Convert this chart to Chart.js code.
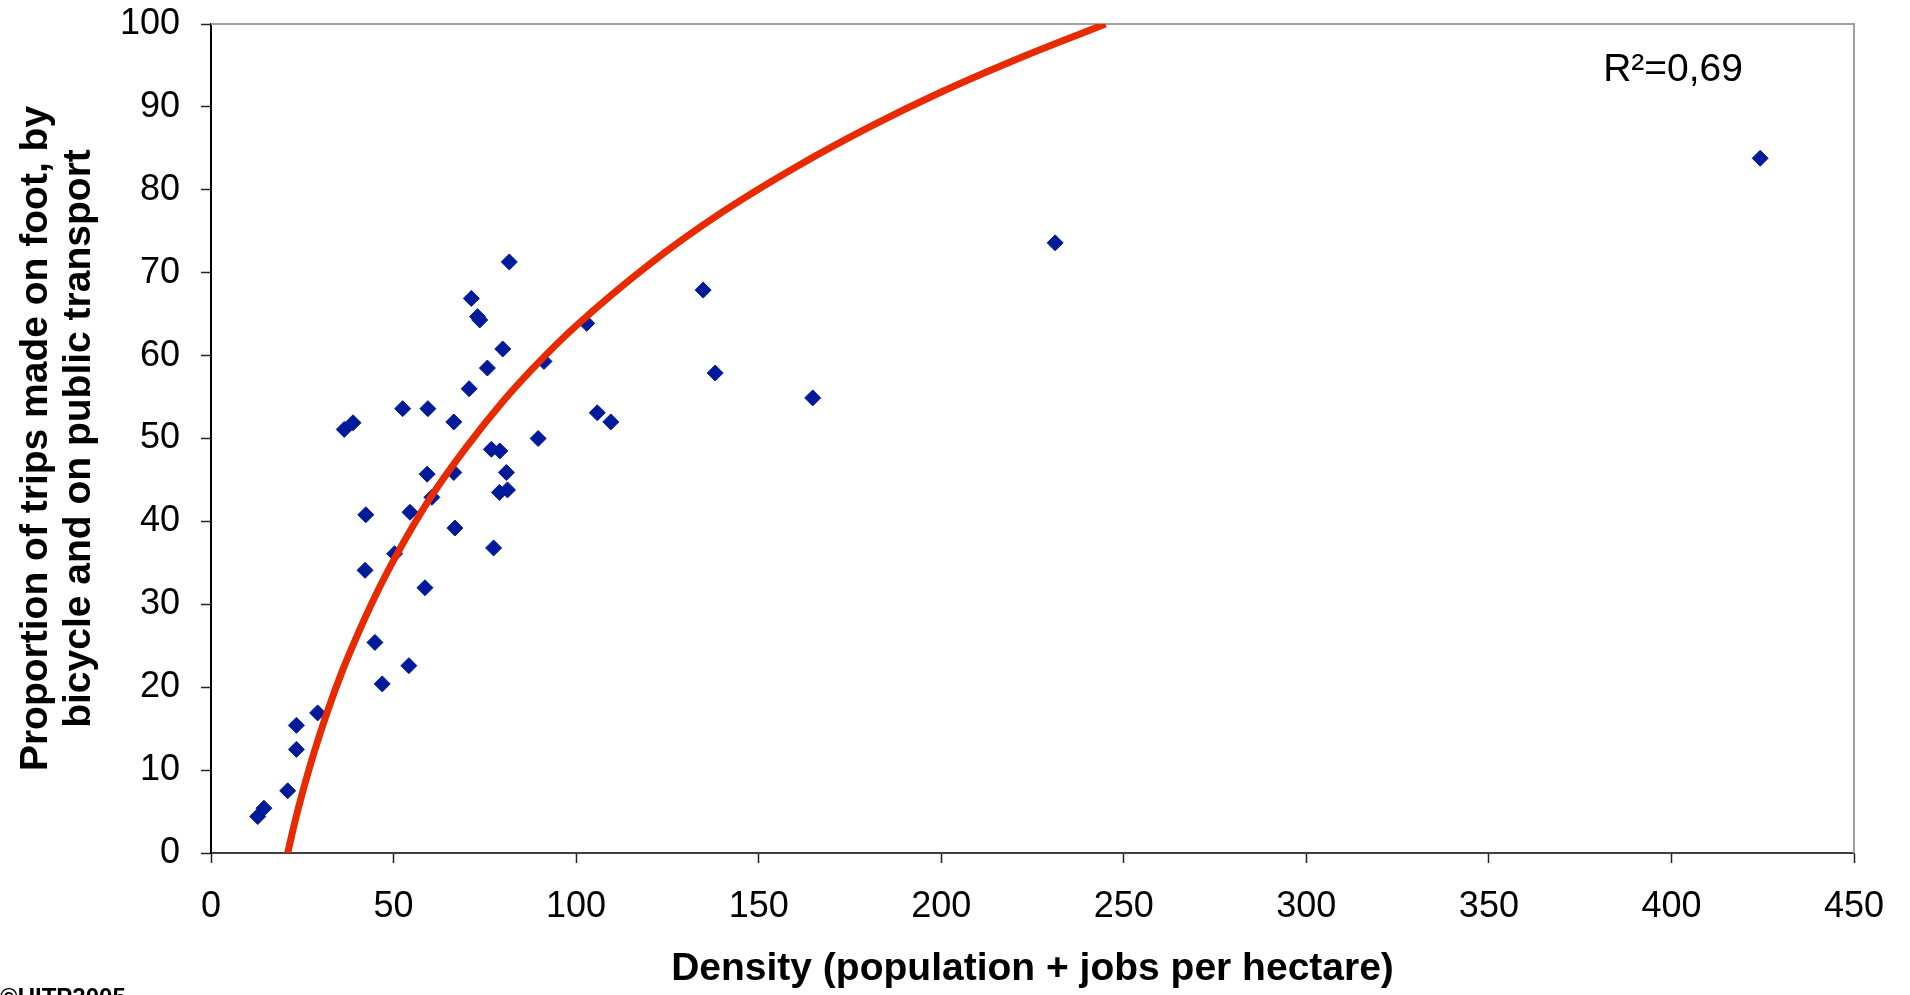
<!DOCTYPE html>
<html>
<head>
<meta charset="utf-8">
<title>Density and sustainable trips</title>
<script src="https://cdn.jsdelivr.net/npm/chart.js@4/dist/chart.umd.min.js"></script>
<style>
    html, body { margin: 0; padding: 0; background: #fff; }
    #wrap { width: 1910px; height: 995px; }
</style>
</head>
<body>
<div id="wrap"><canvas id="densityChart" width="1910" height="995"></canvas></div>
<script>
// Observed cities: density (population + jobs / ha) and share of walk/bike/PT trips (%)
const density = [
    12.8, 14.5, 21.0, 23.4, 23.4, 29.2, 36.5, 38.9, 42.4, 42.2,
    44.9, 46.9, 50.3, 52.5, 54.5, 54.2, 58.6, 59.2, 59.4, 60.5,
    66.5, 66.5, 66.8, 70.7, 71.3, 73.0, 73.6, 75.7, 76.8, 77.4,
    79.1, 79.0, 79.9, 80.9, 81.2, 81.7, 89.6, 91.2, 102.9, 105.8,
    109.5, 134.8, 138.1, 164.8, 231.2, 424.3
];
const tripShare = [
    4.4, 5.4, 7.5, 12.5, 15.4, 16.9, 51.1, 51.9, 40.8, 34.1,
    25.4, 20.4, 36.1, 53.6, 41.1, 22.6, 32.0, 45.7, 53.6, 42.9,
    52.0, 45.9, 39.2, 56.0, 66.9, 64.7, 64.3, 58.5, 48.7, 36.8,
    48.5, 43.5, 60.8, 45.9, 43.8, 71.3, 50.0, 59.3, 63.9, 53.1,
    52.0, 67.9, 57.9, 54.9, 73.6, 83.8
];

// Trend curve
const trendDensity = [21, 23, 25, 28, 32, 36, 40, 45, 50, 60, 70, 80, 90, 100, 120, 140, 160, 180, 200, 222, 245];
const trendShare = [0, 3.8, 7.2, 11.8, 17.2, 22.0, 26.2, 31.0, 35.3, 42.8, 49.0, 54.5, 59.3, 63.6, 71.0, 77.3, 82.7, 87.5, 91.8, 96.0, 100];

const xRange = [0, 450];
const yRange = [0, 100];
const xStep = 50;
const yStep = 10;

const fitLabel = 'R²=0,69';
const fitLabelAt = [381.3, 94.4];
const creditText = '©UITP2005';

const FONT = '"Liberation Sans", Arial, sans-serif';

const points = density.map((d, i) => ({ x: d, y: tripShare[i] }));
const trend = trendDensity.map((d, i) => ({ x: d, y: trendShare[i] }));

// gray top/right frame, R² note and credit line
const plotFrame = {
    id: 'plotFrame',
    beforeDatasetsDraw(chart) {
        const { ctx, chartArea: a } = chart;
        ctx.save();
        ctx.strokeStyle = '#a0a0a0';
        ctx.lineWidth = 2;
        ctx.beginPath();
        ctx.moveTo(a.left, a.top);
        ctx.lineTo(a.right, a.top);
        ctx.lineTo(a.right, a.bottom);
        ctx.stroke();
        ctx.restore();
    },
    afterDraw(chart) {
        const { ctx, scales } = chart;
        ctx.save();
        ctx.fillStyle = '#000';
        ctx.font = `39px ${FONT}`;
        ctx.textAlign = 'left';
        ctx.textBaseline = 'middle';
        ctx.fillText(fitLabel, scales.x.getPixelForValue(fitLabelAt[0]), scales.y.getPixelForValue(fitLabelAt[1]));

        ctx.font = `bold 24px ${FONT}`;
        ctx.textBaseline = 'alphabetic';
        ctx.fillText(creditText, 0, chart.height + 10);
        ctx.restore();
    }
};

const axisGrid = {
    display: true,
    drawOnChartArea: false,
    drawTicks: true,
    tickLength: 10,
    tickColor: '#222',
    tickWidth: 1.5
};

new Chart(document.getElementById('densityChart'), {
    type: 'scatter',
    data: {
        datasets: [
            {
                label: 'Trend',
                type: 'line',
                data: trend,
                borderColor: '#e82a00',
                borderWidth: 7,
                pointRadius: 0,
                fill: false,
                cubicInterpolationMode: 'monotone',
                order: 0
            },
            {
                label: 'Cities',
                data: points,
                pointStyle: 'rectRot',
                pointRadius: 8,
                pointBackgroundColor: '#001a99',
                pointBorderColor: '#001a99',
                pointBorderWidth: 1,
                order: 1
            }
        ]
    },
    options: {
        responsive: false,
        animation: false,
        layout: { padding: { top: 24, right: 56, left: 0, bottom: 0 } },
        plugins: {
            legend: { display: false },
            tooltip: { enabled: false }
        },
        scales: {
            x: {
                type: 'linear',
                min: xRange[0],
                max: xRange[1],
                ticks: {
                    stepSize: xStep,
                    color: '#000',
                    padding: 22,
                    font: { family: FONT, size: 36 }
                },
                grid: axisGrid,
                border: { display: true, color: '#404040', width: 2 },
                title: {
                    display: true,
                    text: 'Density (population + jobs per hectare)',
                    color: '#000',
                    font: { family: FONT, size: 39, weight: 'bold', lineHeight: 1.2 },
                    padding: { top: 0, bottom: 2 }
                },
                afterFit(scale) { scale.height = 142; }
            },
            y: {
                type: 'linear',
                min: yRange[0],
                max: yRange[1],
                ticks: {
                    stepSize: yStep,
                    color: '#000',
                    padding: 21,
                    font: { family: FONT, size: 36 }
                },
                grid: axisGrid,
                border: { display: true, color: '#000', width: 2 },
                title: {
                    display: true,
                    text: ['Proportion of trips made on foot, by', 'bicycle and on public transport'],
                    color: '#000',
                    font: { family: FONT, size: 39, weight: 'bold', lineHeight: 1.1 },
                    padding: { top: 15, bottom: 0 }
                },
                afterFit(scale) {
                    scale.width = 211;
                    scale.paddingTop = 0;
                    scale.paddingBottom = 0;
                }
            }
        }
    },
    plugins: [plotFrame]
});
</script>
</body>
</html>
